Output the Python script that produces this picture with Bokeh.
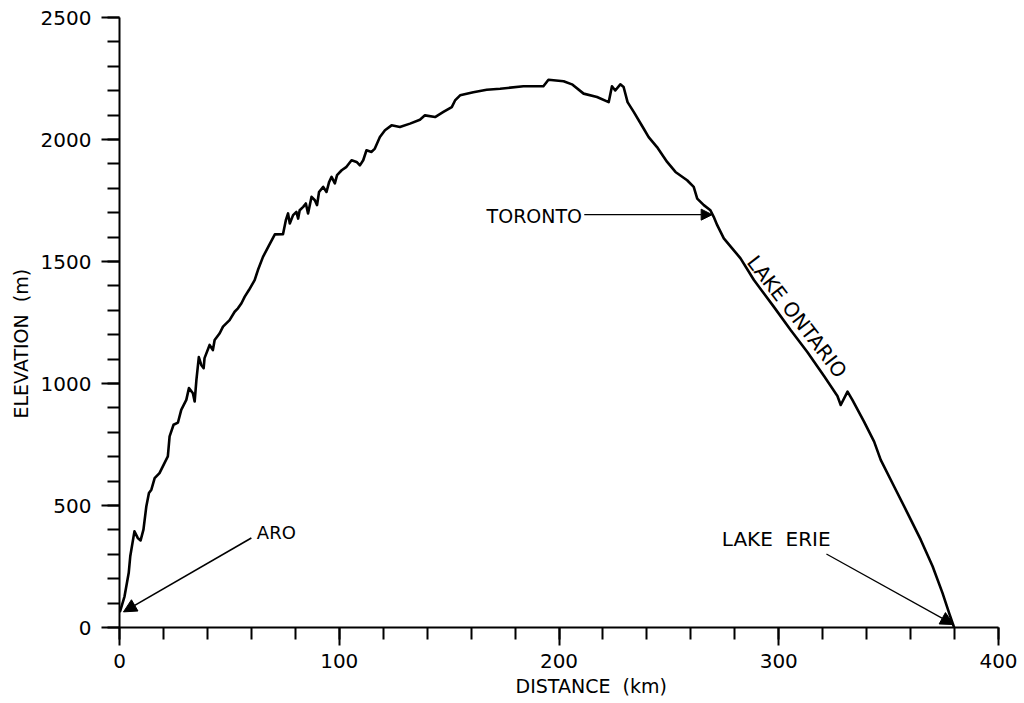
from bokeh.plotting import figure
from bokeh.models import Range1d, SingleIntervalTicker, Arrow, NormalHead, Label, Title
from bokeh.embed import file_html
from bokeh.resources import INLINE

# ---- data ----
distance_km = [0.3, 2.3, 4.2, 4.9, 6.8, 8.3, 9.6, 10.9, 12.2, 13.4,
               14.5, 16.0, 18.2, 20.8, 22.0, 22.8, 24.6, 26.6, 28.1, 30.4,
               31.6, 33.4, 34.2, 35.0, 36.1, 37.2, 38.3, 38.7, 41.0, 42.5,
               43.3, 45.6, 47.1, 50.1, 52.4, 53.9, 55.5, 57.0, 58.9, 61.5,
               63.0, 65.3, 68.1, 70.7, 74.4, 75.7, 76.7, 77.5, 79.0, 80.5,
               81.3, 82.0, 83.6, 84.8, 85.8, 87.4, 88.9, 89.9, 90.8, 92.7,
               94.2, 95.4, 96.5, 98.0, 99.0, 101.1, 103.3, 105.6, 107.9, 109.4,
               110.9, 112.4, 114.7, 116.2, 118.5, 120.8, 123.8, 127.6, 132.2, 136.7,
               139.0, 143.6, 147.4, 151.2, 152.7, 155.0, 161.0, 167.1, 173.2, 183.8,
               192.9, 195.2, 202.1, 205.9, 211.2, 217.3, 222.6, 224.1, 225.6, 227.9,
               229.4, 231.2, 234.0, 238.5, 240.8, 244.6, 249.2, 253.0, 258.3, 261.3,
               262.9, 265.9, 268.9, 270.4, 272.0, 275.0, 278.8, 282.6, 288.7, 297.7,
               305.4, 313.0, 320.6, 326.7, 328.2, 331.3, 333.5, 338.8, 343.4, 346.4,
               352.5, 358.6, 364.6, 370.0, 374.5, 377.5, 379.8]
elevation_m = [67, 128, 224, 292, 394, 367, 357, 401, 496, 551,
               565, 612, 633, 680, 701, 783, 831, 840, 892, 933,
               981, 960, 926, 1015, 1108, 1076, 1063, 1104, 1158, 1137,
               1178, 1206, 1233, 1260, 1294, 1308, 1329, 1356, 1383, 1424,
               1465, 1519, 1567, 1611, 1612, 1669, 1697, 1656, 1690, 1703,
               1676, 1710, 1724, 1738, 1697, 1765, 1751, 1731, 1785, 1806,
               1785, 1826, 1847, 1820, 1854, 1874, 1888, 1915, 1908, 1894,
               1915, 1956, 1949, 1963, 2010, 2038, 2058, 2051, 2065, 2081,
               2099, 2092, 2113, 2133, 2160, 2181, 2194, 2204, 2208, 2218,
               2218, 2245, 2239, 2226, 2188, 2174, 2153, 2218, 2201, 2226,
               2215, 2153, 2113, 2045, 2010, 1969, 1908, 1867, 1833, 1806,
               1758, 1731, 1710, 1683, 1649, 1595, 1554, 1513, 1424, 1315,
               1219, 1129, 1031, 949, 912, 967, 933, 844, 762, 687,
               578, 469, 360, 251, 142, 60, 0]

x_title = "DISTANCE\u00a0\u00a0(km)"
y_title = "ELEVATION\u00a0\u00a0(m)"

# annotations: (label, label x, label y, arrow start x, start y, end x, end y)
aro = ("ARO", 62.5, 388, 60.0, 367, 1.8, 64)
toronto = ("TORONTO", 210.5, 1685, 211.5, 1692, 269.7, 1692)
erie = ("LAKE\u00a0\u00a0ERIE", 323.6, 362, 321.7, 301, 379.6, 12)
ontario = ("LAKE ONTARIO", 308.3, 1274)

FONT = "DejaVu Sans"

p = figure(width=1024, height=703, output_backend="svg", toolbar_location=None,
           x_range=Range1d(0, 400), y_range=Range1d(0, 2500),
           min_border_left=119, min_border_right=26, min_border_top=17,
           min_border_bottom=76)
p.outline_line_color = None
p.grid.visible = False
p.background_fill_color = "white"
p.border_fill_color = "white"

p.xaxis.ticker = SingleIntervalTicker(interval=100, num_minor_ticks=5)
p.yaxis.ticker = SingleIntervalTicker(interval=500, num_minor_ticks=5)

for ax in (p.xaxis, p.yaxis):
    ax.axis_line_width = 2
    ax.axis_line_color = "black"
    ax.major_tick_line_width = 2
    ax.minor_tick_line_width = 2
    ax.major_tick_line_color = "black"
    ax.minor_tick_line_color = "black"
    ax.major_tick_in = 0
    ax.major_tick_out = 18
    ax.minor_tick_in = 0
    ax.minor_tick_out = 12
    ax.major_label_text_font = FONT
    ax.major_label_text_font_size = "20px"
    ax.major_label_text_color = "black"

p.xaxis.major_label_standoff = 8
p.yaxis.major_label_standoff = 10

# axis titles as offset titles next to the axes
p.add_layout(Title(text=x_title, align="left", offset=396, standoff=5,
                   text_font=FONT, text_font_size="19px",
                   text_font_style="normal", text_color="black"), "below")
p.add_layout(Title(text=y_title, align="left", offset=209, standoff=11,
                   text_font=FONT, text_font_size="19px",
                   text_font_style="normal", text_color="black"), "left")

p.line(distance_km, elevation_m, line_width=2.6, line_color="black",
       line_join="round", line_cap="round")

def add_arrow(a, lw, size):
    p.add_layout(Arrow(x_start=a[3], y_start=a[4], x_end=a[5], y_end=a[6],
                       line_width=lw, line_color="black",
                       end=NormalHead(size=size, fill_color="black",
                                      line_color="black", line_width=1)))

add_arrow(aro, 1.6, 13)
add_arrow(toronto, 1.2, 11)
add_arrow(erie, 1.3, 13)

def add_text(t, size, align, angle=0.0):
    p.add_layout(Label(x=t[1], y=t[2], text=t[0], text_font=FONT,
                       text_font_size=size, text_align=align,
                       text_baseline="middle", angle=angle,
                       text_color="black"))

add_text(aro, "18px", "left")
add_text(toronto, "19px", "right")
add_text(erie, "20px", "right")
add_text(ontario, "20px", "center", -0.91)

open("out.html", "w").write(file_html(p, INLINE))
